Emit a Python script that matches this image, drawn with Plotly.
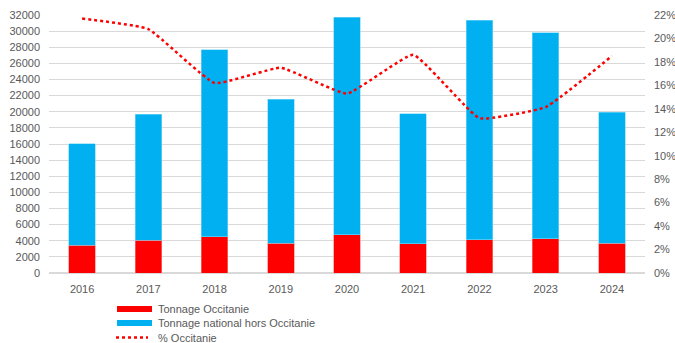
import plotly.graph_objects as go

years = ["2016", "2017", "2018", "2019", "2020", "2021", "2022", "2023", "2024"]
tonnage_occitanie = [3450, 4050, 4500, 3720, 4750, 3630, 4130, 4220, 3670]
tonnage_total = [16050, 19720, 27700, 21580, 31750, 19760, 31330, 29800, 19920]
tonnage_hors_occitanie = [t - o for t, o in zip(tonnage_total, tonnage_occitanie)]
pct_occitanie = [0.217, 0.208, 0.162, 0.175, 0.153, 0.186, 0.132, 0.1415, 0.185]

RED = "#FF0000"
BLUE = "#00B0F0"
grey = "#595959"
font = dict(family="Liberation Sans, Arial, sans-serif", size=11, color=grey)

W, H = 675, 343
M = dict(l=49, r=30, t=15, b=70)
plot_w = W - M["l"] - M["r"]
plot_h = H - M["t"] - M["b"]


def px_to_paper(x, y):
    return (x - M["l"]) / plot_w, (H - M["b"] - y) / plot_h


fig = go.Figure()
fig.add_trace(go.Bar(
    x=years, y=tonnage_occitanie, name="Tonnage Occitanie",
    marker=dict(color=RED, line=dict(color="#ff8080", width=0.6)),
))
fig.add_trace(go.Bar(
    x=years, y=tonnage_hors_occitanie, name="Tonnage national hors Occitanie",
    marker=dict(color=BLUE, line=dict(color="#80d8f8", width=0.6)),
))
fig.add_trace(go.Scatter(
    x=years, y=pct_occitanie, name="% Occitanie", yaxis="y2",
    mode="lines", line=dict(color=RED, width=2.5, dash="dot", shape="spline", smoothing=0.35),
))

# Compact legend drawn below the chart
legend_rows = [
    ("Tonnage Occitanie", "bar", RED, 309),
    ("Tonnage national hors Occitanie", "bar", BLUE, 323),
    ("% Occitanie", "line", RED, 337.5),
]
shapes = []
annotations = []
for label, kind, color, ypx in legend_rows:
    x0, y0 = px_to_paper(117, ypx - 3)
    x1, y1 = px_to_paper(152, ypx + 3)
    if kind == "bar":
        shapes.append(dict(type="rect", xref="paper", yref="paper", x0=x0, x1=x1,
                           y0=y0, y1=y1, fillcolor=color, line=dict(width=0)))
    else:
        lx0, ly = px_to_paper(116, ypx)
        lx1, _ = px_to_paper(148, ypx)
        shapes.append(dict(type="line", xref="paper", yref="paper", x0=lx0, x1=lx1,
                           y0=ly, y1=ly, line=dict(color=color, width=2.5, dash="dot")))
    tx, ty = px_to_paper(156, ypx)
    annotations.append(dict(text=label, xref="paper", yref="paper", x=tx, y=ty,
                            xanchor="left", yanchor="middle", showarrow=False, font=font))

fig.update_layout(
    width=W, height=H,
    margin=dict(**M, autoexpand=False),
    barmode="stack", bargap=0.6,
    plot_bgcolor="white", paper_bgcolor="white",
    font=font,
    showlegend=False,
    xaxis=dict(showgrid=False, showline=False, ticks="", tickfont=font, ticklabelstandoff=8),
    yaxis=dict(range=[0, 32000], dtick=2000, showgrid=True, gridcolor="#d9d9d9",
               gridwidth=1, zeroline=True, zerolinecolor="#d9d9d9", tickfont=font,
               tickformat="d", ticklabelstandoff=8),
    yaxis2=dict(range=[0, 0.22], dtick=0.02, overlaying="y", side="right",
                tickformat=".0%", showgrid=False, zeroline=False, tickfont=font,
                ticklabelstandoff=8),
    shapes=shapes,
    annotations=annotations,
)

fig.write_html("out.html")
